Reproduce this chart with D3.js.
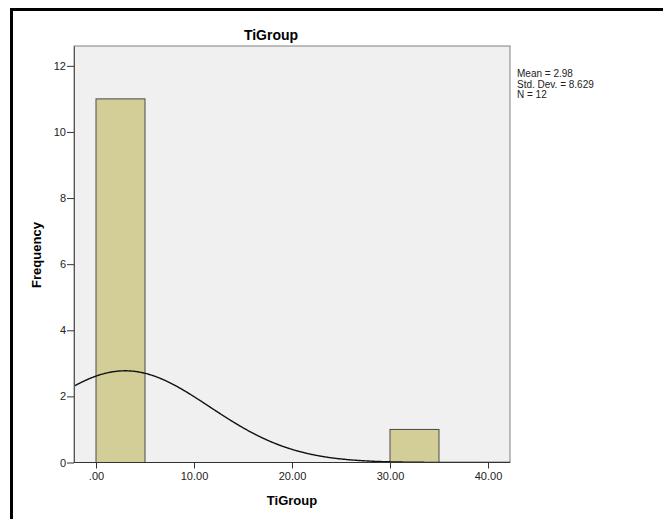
<!DOCTYPE html>
<html><head><meta charset="utf-8">
<script src="https://cdn.jsdelivr.net/npm/d3@7"></script>
<style>body{margin:0;background:#fff}svg{display:block}text{font-family:Arial,"Liberation Sans",sans-serif}</style>
</head><body>
<script>
const binStarts = [0, 30];
const binEnds = [5, 35];
const counts = [11, 1];
const yTicks = [0, 2, 4, 6, 8, 10, 12];
const xTicks = [0, 10, 20, 30, 40];
const xTickLabels = [".00", "10.00", "20.00", "30.00", "40.00"];
const statsLines = ["Mean = 2.98", "Std. Dev. = 8.629", "N = 12"];
const mean = 2.98, sd = 8.629, n = 12, binWidth = 5;

const W = 663, H = 519;
const svg = d3.select("body").append("svg").attr("width", W).attr("height", H);

// outer frame
svg.append("rect").attr("x", 11.5).attr("y", 9.5).attr("width", 700).attr("height", 600)
  .attr("fill", "none").attr("stroke", "#000").attr("stroke-width", 3);

const L = 74, R = 510, T = 46, B = 462.5;
const x = d3.scaleLinear().domain([-2.245, 42.245]).range([L, R]);
const y = d3.scaleLinear().domain([0, 12.6]).range([B, T]);

svg.append("rect").attr("x", L).attr("y", T).attr("width", R - L).attr("height", B - T)
  .attr("fill", "#f0f0f0").attr("stroke", "#808080").attr("stroke-width", 1);

svg.append("defs").append("clipPath").attr("id", "clip")
  .append("rect").attr("x", L).attr("y", T).attr("width", R - L).attr("height", B - T);

const bars = binStarts.map((s, i) => ({s, e: binEnds[i], c: counts[i]}));
svg.append("g").selectAll("rect").data(bars).join("rect")
  .attr("x", d => x(d.s)).attr("y", d => y(d.c))
  .attr("width", d => x(d.e) - x(d.s)).attr("height", d => y(0) - y(d.c))
  .attr("fill", "#d3ce98").attr("stroke", "#4a4a4a").attr("stroke-width", 1);

// normal curve
const xs = d3.range(-2.245, 42.3, 0.1);
const norm = v => n * binWidth / (sd * Math.sqrt(2 * Math.PI)) * Math.exp(-((v - mean) ** 2) / (2 * sd * sd));
svg.append("path").datum(xs).attr("clip-path", "url(#clip)")
  .attr("d", d3.line().x(d => x(d)).y(d => y(norm(d))).curve(d3.curveMonotoneX))
  .attr("fill", "none").attr("stroke", "#111").attr("stroke-width", 1.4);

// y axis
const yAxis = svg.append("g").attr("transform", `translate(${L},0)`)
  .call(d3.axisLeft(y).tickValues(yTicks).tickSize(7).tickSizeOuter(0).tickPadding(1).tickFormat(d3.format("d")));
yAxis.select(".domain").attr("stroke", "#555");
yAxis.selectAll(".tick line").attr("stroke", "#333");
yAxis.selectAll("text").attr("font-size", 11).attr("fill", "#222");

// x axis
const xAxis = svg.append("g").attr("transform", `translate(0,${B})`)
  .call(d3.axisBottom(x).tickValues(xTicks).tickSize(6).tickSizeOuter(0).tickPadding(4).tickFormat((d, i) => xTickLabels[i]));
xAxis.select(".domain").remove();
xAxis.selectAll(".tick line").attr("stroke", "#333");
xAxis.selectAll("text").attr("font-size", 11).attr("fill", "#222");
svg.append("line").attr("x1", L).attr("x2", R).attr("y1", B).attr("y2", B).attr("stroke", "#333");

// titles
svg.append("text").attr("x", 271).attr("y", 40).attr("text-anchor", "middle")
  .attr("font-size", 14).attr("font-weight", "bold").text("TiGroup");
svg.append("text").attr("x", 292).attr("y", 505).attr("text-anchor", "middle")
  .attr("font-size", 13).attr("font-weight", "bold").text("TiGroup");
svg.append("text").attr("transform", "translate(41,255) rotate(-90)").attr("text-anchor", "middle")
  .attr("font-size", 13).attr("font-weight", "bold").text("Frequency");

// stats
svg.append("g").selectAll("text").data(statsLines).join("text")
  .attr("x", 517).attr("y", (d, i) => 77 + i * 10.5).attr("font-size", 10).attr("fill", "#222").text(d => d);
</script>
</body></html>
